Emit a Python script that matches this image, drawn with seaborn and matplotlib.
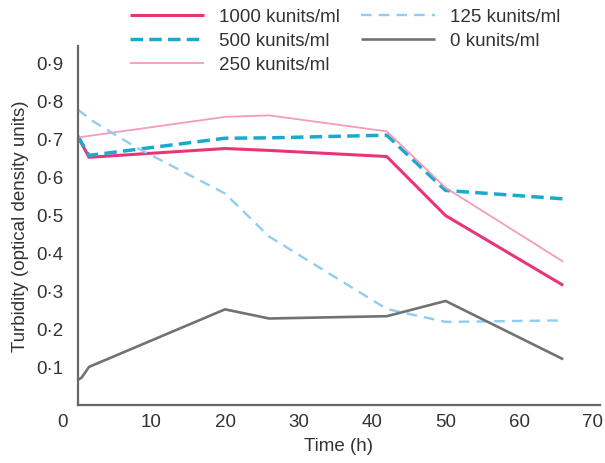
import pandas as pd
import seaborn as sns
import matplotlib
matplotlib.use("Agg")
from matplotlib import pyplot as plt
from matplotlib.ticker import FuncFormatter
import matplotlib.transforms as mtransforms

# values
t_1000 = [0, 1.5, 20, 26, 42, 50, 66]
y_1000 = [0.704, 0.650, 0.673, 0.668, 0.652, 0.497, 0.314]

t_500 = [0, 1.5, 20, 26, 42, 50, 66]
y_500 = [0.705, 0.655, 0.700, 0.701, 0.708, 0.563, 0.541]

t_250 = [0, 20, 26, 42, 50, 66]
y_250 = [0.702, 0.756, 0.760, 0.718, 0.570, 0.376]

t_125 = [0, 2, 8, 20, 26, 42, 50, 66]
y_125 = [0.775, 0.745, 0.675, 0.555, 0.442, 0.252, 0.218, 0.222]

t_0 = [0, 0.5, 1.5, 20, 26, 42, 50, 66]
y_0 = [0.066, 0.072, 0.100, 0.251, 0.227, 0.233, 0.273, 0.120]

labels = ["1000 kunits/ml", "500 kunits/ml", "250 kunits/ml",
          "125 kunits/ml", "0 kunits/ml"]
x_ticks = [0, 10, 20, 30, 40, 50, 60, 70]
y_ticks = [0.1, 0.2, 0.3, 0.4, 0.5, 0.6, 0.7, 0.8, 0.9]

series = [
    (t_1000, y_1000, labels[0], "#e8357a", 2.2, (0, ())),
    (t_500, y_500, labels[1], "#1ba9cc", 2.5, (0, (3.6, 1.8))),
    (t_250, y_250, labels[2], "#f59bbb", 1.3, (0, ())),
    (t_125, y_125, labels[3], "#8fcdf2", 1.7, (0, (4.5, 3.0))),
    (t_0, y_0, labels[4], "#6f7372", 1.9, (0, ())),
]

sns.set_style("white")
plt.rcParams["font.family"] = ["Liberation Sans", "DejaVu Sans"]
text_col = "#333333"
axis_col = "#66696b"
fs = 13.5

fig = plt.figure(figsize=(6.05, 4.64), dpi=100)
ax = fig.add_axes([0.1289, 0.125, 0.8628, 0.7737])

for t, y, lab, col, lw, ls in series:
    df = pd.DataFrame({"Time (h)": t, "Turbidity": y})
    sns.lineplot(data=df, x="Time (h)", y="Turbidity", ax=ax, color=col,
                 linewidth=lw, linestyle=ls, label=lab, sort=False)

ax.set_xlim(0, 71)
ax.set_ylim(0, 0.942)
ax.set_xticks(x_ticks)
ax.set_yticks(y_ticks)
ax.yaxis.set_major_formatter(FuncFormatter(lambda v, p: f"{v:.1f}".replace(".", "\u00b7")))

for s in ["top", "right"]:
    ax.spines[s].set_visible(False)
for s in ["left", "bottom"]:
    ax.spines[s].set_color(axis_col)
    ax.spines[s].set_linewidth(1.6)

ax.tick_params(axis="both", direction="in", length=7.2, width=1.3,
               color="#4a4f55", labelsize=fs, labelcolor=text_col)
ax.tick_params(axis="y", pad=10.5)
ax.tick_params(axis="x", pad=6)

# the origin "0" sits left of the corner
lbl0 = ax.get_xticklabels()[0]
lbl0.set_transform(lbl0.get_transform() +
                   mtransforms.ScaledTranslation(-15 / 100, 0, fig.dpi_scale_trans))

ax.set_xlabel("Time (h)", fontsize=fs, color=text_col, labelpad=5)
ax.set_ylabel("Turbidity (optical density units)", fontsize=fs,
              color=text_col, labelpad=5)

ax.legend(loc="upper left", bbox_to_anchor=(0.2, 1.0),
          bbox_transform=fig.transFigure, ncol=2, frameon=False,
          fontsize=fs, handlelength=3.95, handletextpad=0.8,
          columnspacing=1.1, labelspacing=0.36, borderpad=0,
          labelcolor=text_col)

plt.savefig("out.png", dpi=100)
plt.close()
